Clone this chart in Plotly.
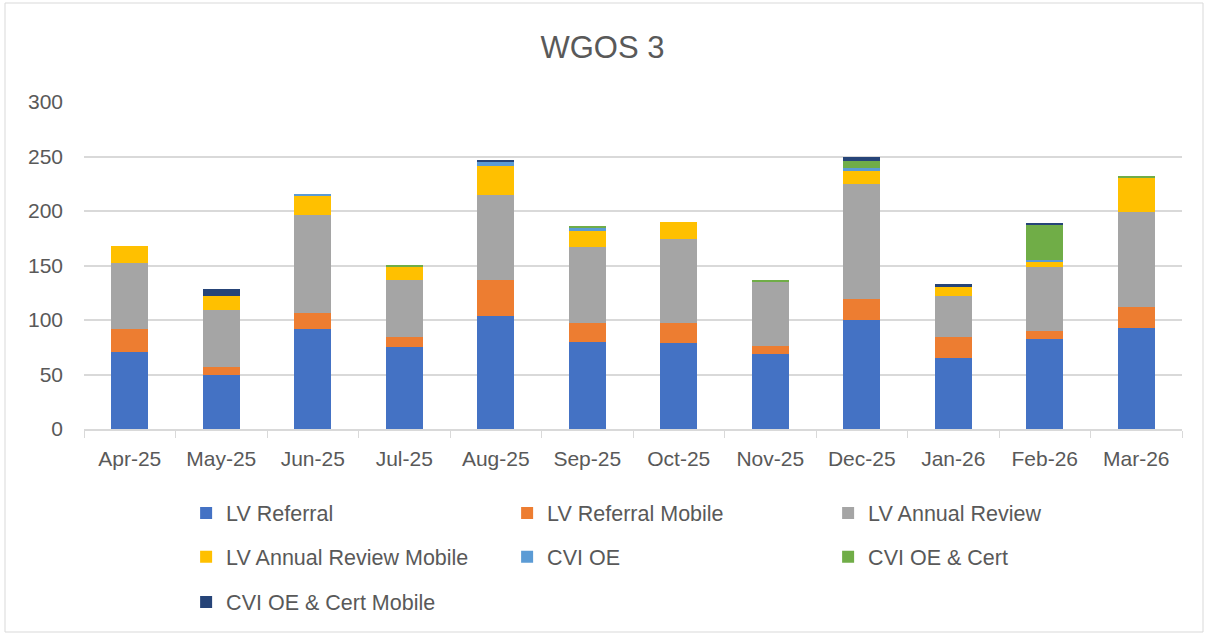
import plotly.graph_objects as go

months = ["Apr-25", "May-25", "Jun-25", "Jul-25", "Aug-25", "Sep-25",
          "Oct-25", "Nov-25", "Dec-25", "Jan-26", "Feb-26", "Mar-26"]

lv_referral = [71, 50, 92, 75, 104, 80, 79, 69, 100, 65, 83, 93]
lv_referral_mobile = [21, 7, 14, 9, 33, 17, 18, 7, 19, 19, 7, 19]
lv_annual_review = [60, 52, 90, 53, 78, 70, 77, 59, 106, 38, 59, 87]
lv_annual_review_mobile = [16, 13, 18, 12, 26, 15, 16, 0, 12, 8, 5, 32]
cvi_oe = [0, 0, 1, 0, 4, 3, 0, 0, 2, 0, 1, 0]
cvi_oe_cert = [0, 0, 0, 1, 0, 1, 0, 2, 7, 0, 33, 1]
cvi_oe_cert_mobile = [0, 6, 0, 0, 1, 0, 0, 0, 4, 3, 1, 0]

series = [
    ("LV Referral", lv_referral, "#4472C4", "legend"),
    ("LV Referral Mobile", lv_referral_mobile, "#ED7D31", "legend"),
    ("LV Annual Review", lv_annual_review, "#A5A5A5", "legend"),
    ("LV Annual Review Mobile", lv_annual_review_mobile, "#FFC000", "legend2"),
    ("CVI OE", cvi_oe, "#5B9BD5", "legend2"),
    ("CVI OE & Cert", cvi_oe_cert, "#70AD47", "legend2"),
    ("CVI OE & Cert Mobile", cvi_oe_cert_mobile, "#264478", "legend3"),
]

FONT = "Liberation Sans"
TXT = "#595959"

fig = go.Figure()
for name, vals, color, lg in series:
    fig.add_trace(go.Bar(x=months, y=vals, name=name, marker_color=color,
                         marker_line_width=0, legend=lg))

def leg(y):
    return dict(orientation="h", x=0.093, xanchor="left", y=y, yanchor="middle",
                entrywidth=276, entrywidthmode="pixels", itemwidth=30,
                font=dict(family=FONT, size=21.5, color=TXT),
                bgcolor="rgba(0,0,0,0)", traceorder="normal")

fig.update_layout(
    width=1205, height=634,
    margin=dict(l=84, r=23, t=102, b=205),
    barmode="stack", bargap=0.6,
    paper_bgcolor="white", plot_bgcolor="white",
    title=dict(text="WGOS 3", x=0.5, xanchor="center", y=1 - 47 / 634,
               yanchor="middle", font=dict(family=FONT, size=31, color=TXT)),
    font=dict(family=FONT, size=21, color=TXT),
    legend=leg(-0.257), legend2=leg(-0.391), legend3=leg(-0.529),
    xaxis=dict(showgrid=False, showline=True, linecolor="#D9D9D9", linewidth=1.5,
               ticks="outside", tickson="boundaries", ticklen=7, tickcolor="#D9D9D9",
               ticklabelstandoff=10,
               tickfont=dict(family=FONT, size=21, color=TXT)),
    yaxis=dict(range=[0, 300], dtick=50, showgrid=True, gridcolor="#D9D9D9",
               gridwidth=1.5, zeroline=False, showline=False, ticks="",
               ticklabelstandoff=20,
               tickfont=dict(family=FONT, size=21, color=TXT)),
    shapes=[dict(type="rect", xref="paper", yref="paper",
                 x0=-79 / 1098, x1=1119 / 1098, y0=-203 / 327, y1=426 / 327,
                 line=dict(color="#D9D9D9", width=1), fillcolor="rgba(0,0,0,0)",
                 layer="below")],
)

fig.write_html("out.html", config={"displayModeBar": False},
               post_script="document.body.style.margin='0';document.body.style.overflow='hidden';")
